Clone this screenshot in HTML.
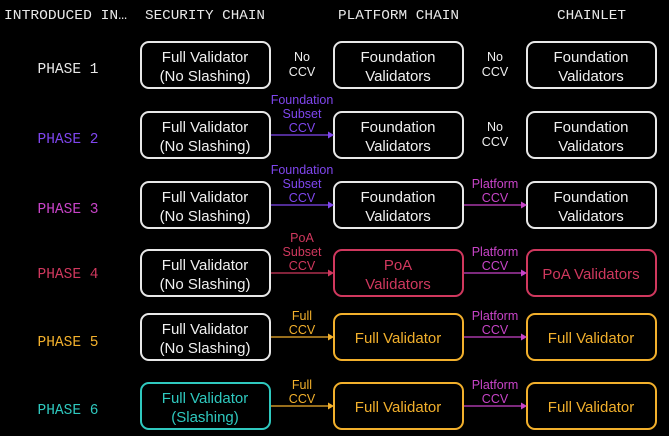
<!DOCTYPE html>
<html><head><meta charset="utf-8"><style>
body{margin:0;background:#000;}
svg{display:block}
.h{font-family:"Liberation Mono",monospace;font-size:14px;fill:#e8e8e8}
.p{font-family:"Liberation Mono",monospace;font-size:14.5px}
.b{font-family:"Liberation Sans",sans-serif;font-size:15px;text-anchor:middle}
.l{font-family:"Liberation Sans",sans-serif;font-size:12.5px;text-anchor:middle}
</style></head><body>
<svg width="669" height="436" viewBox="0 0 669 436" xmlns="http://www.w3.org/2000/svg">
<rect width="669" height="436" fill="#000"/>
<text class="h" x="4" y="19" textLength="123" lengthAdjust="spacingAndGlyphs">INTRODUCED IN…</text>
<text class="h" x="145" y="19" textLength="120" lengthAdjust="spacingAndGlyphs">SECURITY CHAIN</text>
<text class="h" x="338" y="19" textLength="121" lengthAdjust="spacingAndGlyphs">PLATFORM CHAIN</text>
<text class="h" x="557" y="19" textLength="69" lengthAdjust="spacingAndGlyphs">CHAINLET</text>

<g class="p" text-anchor="middle">
<text x="68" y="73" fill="#e8e8e8">PHASE 1</text>
<text x="68" y="143" fill="#7f46ee">PHASE 2</text>
<text x="68" y="213" fill="#c844c8">PHASE 3</text>
<text x="68" y="278" fill="#d0385e">PHASE 4</text>
<text x="68" y="346" fill="#f2b02c">PHASE 5</text>
<text x="68" y="414" fill="#2fc9bf">PHASE 6</text>
</g>

<g fill="none" stroke-width="2">
<rect x="141" y="42" width="129" height="46" rx="8" stroke="#e8e8e8"/>
<rect x="334" y="42" width="129" height="46" rx="8" stroke="#e8e8e8"/>
<rect x="527" y="42" width="129" height="46" rx="8" stroke="#e8e8e8"/>
<rect x="141" y="112" width="129" height="46" rx="8" stroke="#e8e8e8"/>
<rect x="334" y="112" width="129" height="46" rx="8" stroke="#e8e8e8"/>
<rect x="527" y="112" width="129" height="46" rx="8" stroke="#e8e8e8"/>
<rect x="141" y="182" width="129" height="46" rx="8" stroke="#e8e8e8"/>
<rect x="334" y="182" width="129" height="46" rx="8" stroke="#e8e8e8"/>
<rect x="527" y="182" width="129" height="46" rx="8" stroke="#e8e8e8"/>
<rect x="141" y="250" width="129" height="46" rx="8" stroke="#e8e8e8"/>
<rect x="334" y="250" width="129" height="46" rx="8" stroke="#d0385e"/>
<rect x="527" y="250" width="129" height="46" rx="8" stroke="#d0385e"/>
<rect x="141" y="314" width="129" height="46" rx="8" stroke="#e8e8e8"/>
<rect x="334" y="314" width="129" height="46" rx="8" stroke="#f2b02c"/>
<rect x="527" y="314" width="129" height="46" rx="8" stroke="#f2b02c"/>
<rect x="141" y="383" width="129" height="46" rx="8" stroke="#2fc9bf"/>
<rect x="334" y="383" width="129" height="46" rx="8" stroke="#f2b02c"/>
<rect x="527" y="383" width="129" height="46" rx="8" stroke="#f2b02c"/>
</g>

<g class="b">
<text x="205" y="62" fill="#f0f0f0">Full Validator</text><text x="205" y="81" fill="#f0f0f0">(No Slashing)</text>
<text x="398" y="62" fill="#f0f0f0">Foundation</text><text x="398" y="81" fill="#f0f0f0">Validators</text>
<text x="591" y="62" fill="#f0f0f0">Foundation</text><text x="591" y="81" fill="#f0f0f0">Validators</text>

<text x="205" y="132" fill="#f0f0f0">Full Validator</text><text x="205" y="151" fill="#f0f0f0">(No Slashing)</text>
<text x="398" y="132" fill="#f0f0f0">Foundation</text><text x="398" y="151" fill="#f0f0f0">Validators</text>
<text x="591" y="132" fill="#f0f0f0">Foundation</text><text x="591" y="151" fill="#f0f0f0">Validators</text>

<text x="205" y="202" fill="#f0f0f0">Full Validator</text><text x="205" y="221" fill="#f0f0f0">(No Slashing)</text>
<text x="398" y="202" fill="#f0f0f0">Foundation</text><text x="398" y="221" fill="#f0f0f0">Validators</text>
<text x="591" y="202" fill="#f0f0f0">Foundation</text><text x="591" y="221" fill="#f0f0f0">Validators</text>

<text x="205" y="270" fill="#f0f0f0">Full Validator</text><text x="205" y="289" fill="#f0f0f0">(No Slashing)</text>
<text x="398" y="270" fill="#d0385e">PoA</text><text x="398" y="289" fill="#d0385e">Validators</text>
<text x="591" y="279" fill="#d0385e">PoA Validators</text>

<text x="205" y="334" fill="#f0f0f0">Full Validator</text><text x="205" y="353" fill="#f0f0f0">(No Slashing)</text>
<text x="398" y="343" fill="#f2b02c">Full Validator</text>
<text x="591" y="343" fill="#f2b02c">Full Validator</text>

<text x="205" y="403" fill="#2fc9bf">Full Validator</text><text x="205" y="422" fill="#2fc9bf">(Slashing)</text>
<text x="398" y="412" fill="#f2b02c">Full Validator</text>
<text x="591" y="412" fill="#f2b02c">Full Validator</text>
</g>

<g stroke-width="1.3">
<line x1="271" y1="135" x2="328" y2="135" stroke="#7f46ee"/><polygon points="328,131.5 334,135 328,138.5" fill="#7f46ee"/>
<line x1="271" y1="205" x2="328" y2="205" stroke="#7f46ee"/><polygon points="328,201.5 334,205 328,208.5" fill="#7f46ee"/>
<line x1="464" y1="205" x2="521" y2="205" stroke="#c844c8"/><polygon points="521,201.5 527,205 521,208.5" fill="#c844c8"/>
<line x1="271" y1="273" x2="328" y2="273" stroke="#d0385e"/><polygon points="328,269.5 334,273 328,276.5" fill="#d0385e"/>
<line x1="464" y1="273" x2="521" y2="273" stroke="#c844c8"/><polygon points="521,269.5 527,273 521,276.5" fill="#c844c8"/>
<line x1="271" y1="337" x2="328" y2="337" stroke="#f2b02c"/><polygon points="328,333.5 334,337 328,340.5" fill="#f2b02c"/>
<line x1="464" y1="337" x2="521" y2="337" stroke="#c844c8"/><polygon points="521,333.5 527,337 521,340.5" fill="#c844c8"/>
<line x1="271" y1="406" x2="328" y2="406" stroke="#f2b02c"/><polygon points="328,402.5 334,406 328,409.5" fill="#f2b02c"/>
<line x1="464" y1="406" x2="521" y2="406" stroke="#c844c8"/><polygon points="521,402.5 527,406 521,409.5" fill="#c844c8"/>
</g>

<g class="l">
<text x="302" y="61" fill="#f0f0f0">No</text><text x="302" y="76" fill="#f0f0f0">CCV</text>
<text x="495" y="61" fill="#f0f0f0">No</text><text x="495" y="76" fill="#f0f0f0">CCV</text>
<text x="495" y="131" fill="#f0f0f0">No</text><text x="495" y="146" fill="#f0f0f0">CCV</text>

<text x="302" y="104" fill="#7f46ee">Foundation</text><text x="302" y="118" fill="#7f46ee">Subset</text><text x="302" y="132" fill="#7f46ee">CCV</text>
<text x="302" y="174" fill="#7f46ee">Foundation</text><text x="302" y="188" fill="#7f46ee">Subset</text><text x="302" y="202" fill="#7f46ee">CCV</text>
<text x="495" y="188" fill="#c844c8">Platform</text><text x="495" y="202" fill="#c844c8">CCV</text>

<text x="302" y="242" fill="#d0385e">PoA</text><text x="302" y="256" fill="#d0385e">Subset</text><text x="302" y="270" fill="#d0385e">CCV</text>
<text x="495" y="256" fill="#c844c8">Platform</text><text x="495" y="270" fill="#c844c8">CCV</text>

<text x="302" y="320" fill="#f2b02c">Full</text><text x="302" y="334" fill="#f2b02c">CCV</text>
<text x="495" y="320" fill="#c844c8">Platform</text><text x="495" y="334" fill="#c844c8">CCV</text>

<text x="302" y="389" fill="#f2b02c">Full</text><text x="302" y="403" fill="#f2b02c">CCV</text>
<text x="495" y="389" fill="#c844c8">Platform</text><text x="495" y="403" fill="#c844c8">CCV</text>
</g>
</svg>
</body></html>
